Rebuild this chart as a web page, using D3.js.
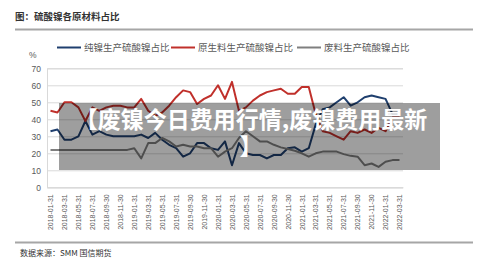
<!DOCTYPE html>
<html>
<head>
<meta charset="utf-8">
<script src="https://cdn.jsdelivr.net/npm/d3@7"></script>
<style>
  body { margin: 0; background: #fff; }
  svg { display: block; }
</style>
</head>
<body>
<svg></svg>
<script>
// 月末日期 2018-01 ~ 2022-03
const dates = [
  "2018-01-31","2018-02-28","2018-03-31","2018-04-30","2018-05-31","2018-06-30",
  "2018-07-31","2018-08-31","2018-09-30","2018-10-31","2018-11-30","2018-12-31",
  "2019-01-31","2019-02-28","2019-03-31","2019-04-30","2019-05-31","2019-06-30",
  "2019-07-31","2019-08-31","2019-09-30","2019-10-31","2019-11-30","2019-12-31",
  "2020-01-31","2020-02-29","2020-03-31","2020-04-30","2020-05-31","2020-06-30",
  "2020-07-31","2020-08-31","2020-09-30","2020-10-31","2020-11-30","2020-12-31",
  "2021-01-31","2021-02-28","2021-03-31","2021-04-30","2021-05-31","2021-06-30",
  "2021-07-31","2021-08-31","2021-09-30","2021-10-31","2021-11-30","2021-12-31",
  "2022-01-31","2022-02-28","2022-03-31"
];
const pureNickel = [33,34,28,28,30,39,31,33,31,30,30,30,30,31,29,32,28,25,23,18,20,26,26,23,22,27,13,26,20,19,19,17,19,19,23,23.5,21,23,37,46,47,50,53,48,50,53,54,53,52,43,43];
const primary    = [45,44,50,50,47,39,47,45,47,48,48,47,47,52,45,42,44,48,53,57,56,49,52,54,60,52,62,45,47,51,54,56,57,58,55,55,59,59,43,33,32,30,28,33,32,34,32,35,33,41,41];
const scrap      = [22,22,22,22,22,22,22,22,22,22,22,22,23,17,26,26,29,27,24,25,24,24,23,23,18,21,23,29,33,30,27,27,25,23.5,22.5,21.5,20,18,20,21,21,21,19.5,18.5,18,13,14,12,15,16,16];
const seriesNames = ["纯镍生产硫酸镍占比", "原生料生产硫酸镍占比", "废料生产硫酸镍占比"];
const seriesColors = ["#1f3f6e", "#c0302b", "#7f7f7f"];
const yTicks = [0,10,20,30,40,50,60,70];

const width = 500, height = 273;
const svg = d3.select("svg").attr("width", width).attr("height", height);
svg.append("rect").attr("width", width).attr("height", height).attr("fill", "#fff");

const x = d3.scalePoint().domain(dates).range([47, 403]).padding(0.5);
const y = d3.scaleLinear().domain([0, 70]).range([187.3, 68.3]);

// 标题和分隔线
svg.append("text").attr("x", 15).attr("y", 20)
  .style("font-family", "'Noto Sans CJK SC'").style("font-size", "9.5px")
  .style("font-weight", "bold").attr("fill", "#333")
  .text("图：硫酸镍各原材料占比");
svg.append("line").attr("x1", 15).attr("x2", 473).attr("y1", 29.5).attr("y2", 29.5)
  .attr("stroke", "#a6a6a6").attr("stroke-width", 2);
svg.append("line").attr("x1", 15).attr("x2", 473).attr("y1", 242.5).attr("y2", 242.5)
  .attr("stroke", "#a6a6a6").attr("stroke-width", 2);
svg.append("text").attr("x", 20).attr("y", 256)
  .style("font-family", "'Noto Sans CJK SC'").style("font-size", "8px")
  .attr("fill", "#333")
  .text("数据来源：SMM 国信期货");

// 网格 + y轴
const yAxis = svg.append("g").attr("transform", "translate(47,0)")
  .call(d3.axisLeft(y).tickValues(yTicks).tickSize(-356).tickPadding(6));
yAxis.select(".domain").attr("stroke", "#d9d9d9");
yAxis.selectAll(".tick line").attr("stroke", "#d9d9d9");
yAxis.selectAll(".tick text").attr("fill", "#595959")
  .style("font-family", "'Liberation Sans'").style("font-size", "8.5px");
svg.append("text").attr("x", 29).attr("y", 58)
  .attr("fill", "#595959").style("font-family", "'Liberation Sans'")
  .style("font-size", "8.5px").text("%");

// x轴
const xAxis = svg.append("g").attr("transform", "translate(0,187.3)")
  .call(d3.axisBottom(x).tickValues(dates.filter((d, i) => i % 2 === 0)).tickSize(0));
xAxis.select(".domain").attr("stroke", "#d9d9d9");
xAxis.selectAll(".tick text")
  .attr("transform", "rotate(-90)")
  .attr("x", -7).attr("y", 0).attr("dy", "0.32em")
  .style("text-anchor", "end")
  .attr("fill", "#595959")
  .style("font-family", "'Liberation Sans'").style("font-size", "7px");

// 折线
const allSeries = [pureNickel, primary, scrap];
const line = d3.line().x((d, i) => x(dates[i])).y(d => y(d));
allSeries.forEach(function (s, k) {
  svg.append("path").datum(s)
    .attr("fill", "none")
    .attr("stroke", seriesColors[k])
    .attr("stroke-width", 2)
    .attr("stroke-linejoin", "round")
    .attr("d", line);
});

// 图例
const legendX = [57, 171, 297];
seriesNames.forEach(function (name, k) {
  const g = svg.append("g").attr("transform", "translate(" + legendX[k] + ",47.5)");
  g.append("line").attr("x1", 0).attr("x2", 24).attr("stroke", seriesColors[k]).attr("stroke-width", 2);
  g.append("text").attr("x", 27).attr("y", 3.5)
    .style("font-family", "'Noto Sans CJK SC'").style("font-size", "9.5px")
    .attr("fill", "#595959").text(name);
});

// 覆盖横幅
svg.append("rect").attr("x", 59).attr("y", 103).attr("width", 381).attr("height", 67)
  .attr("fill", "rgba(0,0,0,0.38)");
const banner = svg.append("g")
  .style("font-family", "'Noto Sans CJK SC'").style("font-size", "23px")
  .style("font-weight", "bold").attr("fill", "#fff").attr("text-anchor", "middle");
banner.append("text").attr("x", 251).attr("y", 128).text("【废镍今日费用行情,废镍费用最新");
banner.append("text").attr("x", 251).attr("y", 155).text("】");
</script>
</body>
</html>
